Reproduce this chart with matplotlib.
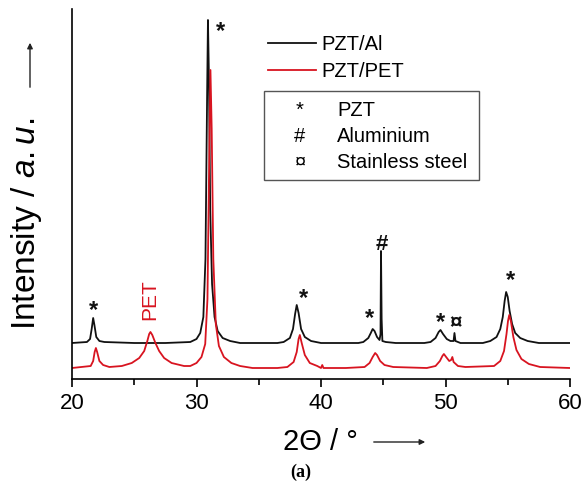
import matplotlib
matplotlib.use("Agg")
import matplotlib.pyplot as plt
from matplotlib.patches import Rectangle

plt.rcParams['font.family'] = ['Liberation Sans', 'DejaVu Sans']
plt.rcParams['mathtext.fontset'] = 'custom'
plt.rcParams['mathtext.rm'] = 'Liberation Sans'
plt.rcParams['mathtext.it'] = 'Liberation Sans:italic'

# PZT on aluminium foil (2theta in degrees, intensity in a.u.)
two_theta_al = [20, 21.2, 21.45, 21.58, 21.7, 21.8, 21.95, 22.2, 22.6, 25, 27.5, 29.5,
                30.0, 30.3, 30.55, 30.72, 30.85, 30.92, 31.0, 31.1, 31.25, 31.45, 31.7, 32.1,
                32.7, 33.5, 36.5,
                37.0, 37.5, 37.75, 37.92, 38.05, 38.2, 38.4, 38.7, 39.2, 40, 43.0,
                43.4, 43.8, 44.0, 44.15, 44.3, 44.5, 44.7, 44.78, 44.82, 44.87, 44.93, 45.2,
                46, 48.3,
                48.8, 49.2, 49.45, 49.6, 49.8, 50.1, 50.4, 50.65, 50.72, 50.8, 51.2, 53.0,
                53.6, 54.1, 54.4, 54.6, 54.75, 54.87, 55.0, 55.15, 55.35, 55.6, 56.0, 56.6,
                57.5, 60]
intensity_al = [36, 37, 40, 50, 61, 54, 42, 38, 37, 36, 36, 37,
                40, 46, 62, 120, 280, 359, 300, 170, 95, 62, 48, 41,
                38, 36, 36,
                37, 41, 50, 65, 74, 66, 50, 42, 38, 36, 36,
                37, 41, 46, 50, 48, 42, 39, 45, 128, 60, 38, 37,
                36, 36,
                37, 41, 47, 49, 45, 40, 38, 38, 46, 38, 36, 36,
                38, 42, 50, 62, 78, 87, 82, 68, 55, 46, 41, 38,
                36, 36]

# PZT on PET film
two_theta_pet = [20, 21.5, 21.7, 21.82, 21.92, 22.02, 22.2, 22.5, 23.0, 24.0,
                 24.8, 25.4, 25.8, 26.05, 26.2, 26.3, 26.45, 26.7, 27.0, 27.4, 28, 29,
                 29.5, 30.0, 30.4, 30.7, 30.88, 31.0, 31.12, 31.22, 31.35, 31.55, 31.8,
                 32.2, 32.8, 33.5, 34.5, 36.5,
                 37.3, 37.8, 38.05, 38.2, 38.3, 38.45, 38.7, 39.1, 39.7, 40.0, 40.1, 40.2,
                 42, 43.5, 43.9, 44.15, 44.35, 44.5, 44.75, 45.1, 45.8, 48.5,
                 49.2, 49.55, 49.75, 49.87, 50.05, 50.3, 50.45, 50.55, 50.65, 51.0, 51.6,
                 53.9, 54.4, 54.7, 54.9, 55.02, 55.12, 55.25, 55.45, 55.7, 56.1, 56.7,
                 57.6, 60]
intensity_pet = [11, 13, 18, 27, 31, 27, 18, 14, 12, 13,
                 16, 21, 28, 38, 45, 47, 44, 36, 28, 21, 16, 13,
                 13, 16, 22, 35, 80, 200, 309, 250, 120, 55, 33,
                 22, 16, 13, 11, 11,
                 12, 17, 27, 40, 44, 36, 24, 16, 13, 11, 14, 11,
                 11, 12, 16, 22, 26, 24, 18, 14, 12, 11,
                 13, 18, 23, 25, 22, 18, 19, 22, 17, 13, 12,
                 13, 18, 28, 45, 58, 64, 58, 42, 29, 20, 15,
                 12, 11]

# peak markers: (2theta, height, symbol)
peak_marks = [(21.69, 72, '*'), (31.9, 351, '*'), (38.63, 84, '*'), (43.86, 64, '*'),
              (49.56, 60, '*'), (55.26, 102, '*'), (44.9, 134, '#'), (50.84, 55, '¤')]

phase_symbols = ['*', '#', '¤']
phase_names = ['PZT', 'Aluminium', 'Stainless steel']

fig = plt.figure(figsize=(5.88, 4.84), dpi=100)
ax = fig.add_axes([72 / 588, 1 - 379 / 484, 498 / 588, 370 / 484])

ax.plot(two_theta_al, intensity_al, color='#111111', lw=1.3, label='PZT/Al')
ax.plot(two_theta_pet, intensity_pet, color='#d81420', lw=1.3, label='PZT/PET')

for x, y, s in peak_marks:
    if s == '*':
        ax.text(x, y - 4, s, ha='center', va='center', fontsize=17, weight='bold', color='#111111')
    else:
        ax.text(x, y, s, ha='center', va='center', fontsize=16, weight='bold', color='#111111')
ax.text(26.27, 79, 'PET', rotation=90, ha='center', va='center', fontsize=15, color='#d81420')

ax.set_xlim(20, 60)
ax.set_ylim(0, 370)
ax.set_xticks([20, 30, 40, 50, 60])
ax.set_xticks([25, 35, 45, 55], minor=True)
ax.set_yticks([])
ax.tick_params(axis='x', which='major', length=6, width=1.2, labelsize=16, pad=4)
ax.tick_params(axis='x', which='minor', length=4, width=1.2)
for side in ['top', 'right']:
    ax.spines[side].set_visible(False)
for side in ['left', 'bottom']:
    ax.spines[side].set_linewidth(1.2)

leg = ax.legend(loc='upper left', bbox_to_anchor=(268 / 588, 1 - 35 / 484),
                bbox_transform=fig.transFigure, frameon=False, fontsize=14.5,
                handlelength=2.4, handletextpad=0.25, labelspacing=0.4,
                borderpad=0, borderaxespad=0)

# phase key box
fig.patches.append(Rectangle((264 / 588, 1 - 180 / 484), 215 / 588, 89 / 484,
                             transform=fig.transFigure, fill=False,
                             edgecolor='#555555', lw=1.0))
for row, (sym, name) in enumerate(zip(phase_symbols, phase_names)):
    yy = 1 - (110 + row * 26) / 484
    fig.text(300 / 588, yy, sym, ha='center', va='center', fontsize=14.5)
    fig.text(337 / 588, yy, name, ha='left', va='center', fontsize=14.5)

fig.text(27 / 588, 1 - 224 / 484, r'Intensity / $\it{a.u.}$', rotation=90,
         ha='center', va='center', fontsize=24)
fig.text(320 / 588, 1 - 442 / 484, '2\u0398 / \u00b0', ha='center', va='center', fontsize=21)
fig.text(301 / 588, 1 - 472 / 484, '(a)', ha='center', va='center', fontsize=13,
         family='Liberation Serif', weight='bold')

ax.annotate('', xy=(30 / 588, 1 - 40 / 484), xytext=(30 / 588, 1 - 90 / 484),
            xycoords='figure fraction', textcoords='figure fraction',
            arrowprops=dict(arrowstyle='-|>', color='#222222', lw=1.0, mutation_scale=8))
ax.annotate('', xy=(428 / 588, 1 - 442 / 484), xytext=(371 / 588, 1 - 442 / 484),
            xycoords='figure fraction', textcoords='figure fraction',
            arrowprops=dict(arrowstyle='-|>', color='#222222', lw=1.0, mutation_scale=8))

fig.savefig('out.png', dpi=100)
